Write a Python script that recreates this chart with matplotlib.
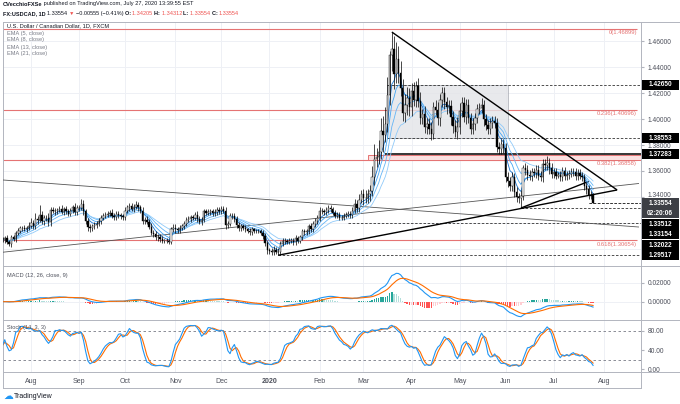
import numpy as np
import pandas as pd
import matplotlib
matplotlib.use("Agg")
import matplotlib.pyplot as plt
from matplotlib.patches import Rectangle
from matplotlib.lines import Line2D
from matplotlib.transforms import ScaledTranslation

plt.rcParams['font.family'] = ['Liberation Sans', 'DejaVu Sans']
NARROW = ['Liberation Sans Narrow', 'Liberation Sans', 'DejaVu Sans']

###########################################################################
## USD/CAD daily closes (FXCM), one list per month
###########################################################################
close_jul19 = [1.3070, 1.3085, 1.3050, 1.3040, 1.3090, 1.3075, 1.3125, 1.3140, 1.3160, 1.3165, 1.3150, 1.3160, 1.3180]
close_aug19 = [1.3200, 1.3180, 1.3230, 1.3225, 1.3265, 1.3215, 1.3240, 1.3235, 1.3205, 1.3300, 1.3295,
               1.3290, 1.3300, 1.3310, 1.3285, 1.3305, 1.3290, 1.3270, 1.3295, 1.3320, 1.3285, 1.3315]
close_sep19 = [1.3315, 1.3345, 1.3290, 1.3215, 1.3170, 1.3160, 1.3175, 1.3185, 1.3190, 1.3215, 1.3240,
               1.3255, 1.3265, 1.3270, 1.3280, 1.3255, 1.3245, 1.3270, 1.3260, 1.3250, 1.3245]
close_oct19 = [1.3295, 1.3320, 1.3330, 1.3310, 1.3325, 1.3340, 1.3320, 1.3295, 1.3215, 1.3225, 1.3210, 1.3170,
               1.3125, 1.3115, 1.3090, 1.3095, 1.3080, 1.3065, 1.3065, 1.3060, 1.3055, 1.3150, 1.3165]
close_nov19 = [1.3150, 1.3145, 1.3165, 1.3175, 1.3195, 1.3225, 1.3230, 1.3245, 1.3240, 1.3265, 1.3230,
               1.3210, 1.3225, 1.3290, 1.3280, 1.3285, 1.3290, 1.3275, 1.3285, 1.3300, 1.3290]
close_dec19 = [1.3310, 1.3295, 1.3185, 1.3195, 1.3255, 1.3250, 1.3230, 1.3185, 1.3160, 1.3175, 1.3165,
               1.3150, 1.3140, 1.3130, 1.3150, 1.3140, 1.3140, 1.3135, 1.3125, 1.3100, 1.3045, 1.2990]
close_jan20 = [1.2985, 1.2975, 1.2995, 1.2980, 1.2975, 1.3040, 1.3065, 1.3060, 1.3055, 1.3065, 1.3065, 1.3050,
               1.3085, 1.3065, 1.3090, 1.3135, 1.3130, 1.3135, 1.3175, 1.3150, 1.3190, 1.3215, 1.3235]
close_feb20 = [1.3295, 1.3290, 1.3285, 1.3300, 1.3315, 1.3305, 1.3280, 1.3255, 1.3265, 1.3240,
               1.3240, 1.3255, 1.3265, 1.3270, 1.3260, 1.3295, 1.3345, 1.3315, 1.3380, 1.3420]
close_mar20 = [1.3390, 1.3395, 1.3420, 1.3445, 1.3555, 1.3690, 1.3705, 1.3750, 1.3905, 1.3880, 1.3960,
               1.4185, 1.4490, 1.4535, 1.4350, 1.4465, 1.4355, 1.4235, 1.4045, 1.4110, 1.4165, 1.4095]
close_apr20 = [1.4215, 1.4150, 1.4255, 1.4140, 1.4010, 1.4040, 1.3935, 1.3960, 1.3925, 1.3885, 1.4090,
               1.4070, 1.4005, 1.4150, 1.4200, 1.4130, 1.4095, 1.4100, 1.4015, 1.3945, 1.3900, 1.3935]
close_may20 = [1.4065, 1.4120, 1.4015, 1.4105, 1.4010, 1.3925, 1.3965, 1.4010, 1.4075, 1.4085, 1.4110,
               1.4000, 1.3955, 1.3925, 1.3970, 1.3985, 1.3970, 1.3785, 1.3770, 1.3805, 1.3775]
close_jun20 = [1.3555, 1.3520, 1.3485, 1.3555, 1.3440, 1.3400, 1.3395, 1.3410, 1.3620, 1.3610, 1.3570,
               1.3560, 1.3590, 1.3585, 1.3610, 1.3560, 1.3555, 1.3655, 1.3650, 1.3660, 1.3620, 1.3575]
close_jul20 = [1.3595, 1.3565, 1.3570, 1.3555, 1.3600, 1.3560, 1.3570, 1.3580, 1.3590, 1.3590,
               1.3560, 1.3585, 1.3565, 1.3550, 1.3485, 1.3460, 1.3415, 1.34109, 1.33554]
last_open = 1.34205

# upper / lower wicks beyond the candle body, in pips
hi_jul19 = [20, 15, 25, 20, 15, 20, 15, 20, 15, 15, 20, 20, 25]
lo_jul19 = [20, 25, 15, 20, 25, 15, 20, 15, 20, 20, 15, 20, 15]
hi_aug19 = [40, 20, 45, 25, 70, 30, 20, 25, 40, 20, 20, 20, 15, 20, 25, 20, 25, 15, 20, 20, 30, 20]
lo_aug19 = [15, 30, 25, 30, 20, 25, 30, 20, 30, 30, 20, 25, 20, 15, 15, 25, 20, 20, 20, 15, 20, 20]
hi_sep19 = [25, 40, 30, 20, 25, 20, 20, 20, 25, 20, 20, 20, 20, 20, 20, 25, 20, 25, 20, 20, 20]
lo_sep19 = [20, 15, 25, 20, 30, 30, 20, 20, 20, 15, 20, 20, 15, 20, 20, 20, 25, 20, 20, 20, 20]
hi_oct19 = [30, 20, 25, 20, 20, 30, 25, 20, 30, 20, 25, 20, 30, 20, 25, 20, 20, 20, 15, 20, 20, 20, 25]
lo_oct19 = [20, 20, 25, 20, 25, 20, 25, 20, 25, 25, 20, 20, 20, 20, 20, 25, 25, 20, 20, 15, 15, 20, 20]
hi_nov19 = [25, 20, 20, 20, 20, 20, 20, 20, 20, 20, 25, 20, 20, 20, 20, 20, 15, 20, 20, 25, 20]
lo_nov19 = [25, 20, 20, 20, 20, 20, 15, 20, 20, 20, 20, 20, 25, 20, 20, 20, 20, 20, 20, 20, 20]
hi_dec19 = [20, 20, 25, 20, 25, 20, 25, 20, 20, 20, 20, 20, 15, 20, 20, 15, 15, 15, 15, 20, 20, 20]
lo_dec19 = [20, 20, 30, 25, 20, 20, 20, 25, 20, 20, 20, 20, 20, 20, 20, 20, 15, 15, 15, 25, 20, 25]
hi_jan20 = [20, 20, 25, 20, 25, 20, 20, 20, 20, 20, 20, 20, 20, 15, 20, 20, 20, 20, 20, 25, 25, 20, 25]
lo_jan20 = [25, 20, 25, 20, 25, 20, 20, 20, 20, 20, 20, 20, 20, 20, 20, 20, 20, 20, 20, 20, 20, 20, 20]
hi_feb20 = [30, 20, 20, 20, 25, 20, 20, 20, 20, 20, 20, 20, 20, 20, 20, 30, 40, 30, 40, 30]
lo_feb20 = [20, 20, 20, 20, 20, 20, 20, 20, 20, 20, 20, 20, 20, 20, 20, 20, 20, 30, 30, 30]
hi_mar20 = [40, 60, 40, 50, 80, 120, 70, 90, 100, 120, 130, 140, 30, 135, 100, 130, 100, 90, 70, 80, 80, 70]
lo_mar20 = [50, 40, 40, 50, 40, 60, 60, 50, 60, 130, 60, 60, 80, 120, 120, 70, 80, 60, 60, 70, 80, 70]
hi_apr20 = [60, 70, 40, 60, 70, 40, 60, 50, 50, 50, 40, 60, 60, 40, 50, 50, 40, 50, 50, 50, 50, 80]
lo_apr20 = [70, 50, 60, 50, 50, 50, 40, 50, 40, 50, 40, 40, 50, 60, 60, 50, 60, 50, 60, 50, 40, 50]
hi_may20 = [60, 50, 50, 50, 50, 40, 40, 40, 40, 40, 50, 40, 40, 40, 40, 40, 40, 40, 40, 40, 40]
lo_may20 = [50, 50, 40, 50, 40, 40, 40, 50, 40, 40, 40, 50, 40, 40, 40, 40, 40, 40, 40, 40, 40]
hi_jun20 = [40, 40, 30, 40, 30, 40, 30, 40, 30, 40, 40, 40, 30, 30, 40, 40, 40, 40, 40, 56, 40, 40]
lo_jun20 = [40, 40, 40, 40, 40, 40, 40, 80, 30, 40, 40, 30, 40, 30, 40, 30, 30, 40, 40, 40, 40, 30]
hi_jul20 = [30, 30, 20, 30, 30, 30, 30, 30, 30, 30, 30, 30, 30, 30, 30, 30, 30, 30, 10.7]
lo_jul20 = [30, 30, 20, 30, 30, 30, 30, 30, 30, 30, 30, 30, 30, 30, 30, 40, 30, 30, 0.02]

# drawings on the chart: (date, price)
trend_down = [("2020-03-19", 1.4669), ("2020-08-11", 1.3454)]
trend_jan = [("2020-01-07", 1.2952), ("2020-08-11", 1.3454)]
trend_jun = [("2020-06-10", 1.3315), ("2020-07-23", 1.3520)]
thin_up = [("2019-07-15", 1.2975), ("2020-08-25", 1.3504)]
thin_down = [("2019-07-15", 1.3531), ("2020-08-25", 1.3169)]
fib_levels = [0.0, 0.236, 0.382, 0.618]
fib_prices = [1.46899, 1.40696, 1.36858, 1.30654]
dashed_levels = [1.42650, 1.38553, 1.33154, 1.32022, 1.29517, 1.33554, 1.33512]
dashed_from = ["2020-03-17", "2020-03-17", "2020-06-10", "2020-02-20", "2020-01-07", "2020-07-23", "2020-07-23"]
box_dates = ("2020-03-17", "2020-06-02")
box_prices = (1.38553, 1.42650)
level_black = (1.37283, "2020-03-16")
zone_red = (1.3686, 1.3725, "2020-03-04")
axis_labels = [1.42650, 1.38553, 1.37283, 1.33554, 1.33512, 1.33154, 1.32022, 1.29517]
price_ticks = [1.34, 1.36, 1.38, 1.40, 1.42, 1.44, 1.46]
countdown = "02:20:06"

###########################################################################

close = np.array(close_jul19 + close_aug19 + close_sep19 + close_oct19 + close_nov19 + close_dec19 +
                 close_jan20 + close_feb20 + close_mar20 + close_apr20 + close_may20 + close_jun20 + close_jul20)
hi_p = np.array(hi_jul19 + hi_aug19 + hi_sep19 + hi_oct19 + hi_nov19 + hi_dec19 + hi_jan20 +
                hi_feb20 + hi_mar20 + hi_apr20 + hi_may20 + hi_jun20 + hi_jul20)
lo_p = np.array(lo_jul19 + lo_aug19 + lo_sep19 + lo_oct19 + lo_nov19 + lo_dec19 + lo_jan20 +
                lo_feb20 + lo_mar20 + lo_apr20 + lo_may20 + lo_jun20 + lo_jul20)
n = len(close)
cal = pd.bdate_range("2019-07-15", periods=320)

opn = np.r_[close[0], close[:-1]]
opn[-1] = last_open
high = np.maximum(opn, close) + hi_p / 10000.0
low = np.minimum(opn, close) - lo_p / 10000.0
xs = np.arange(n)

def bar_of(d):
    return cal.get_loc(pd.Timestamp(d))

# indicators
cs = pd.Series(close)
emas = {k: cs.ewm(span=k, adjust=False).mean() for k in (5, 8, 13, 21)}
macd = cs.ewm(span=12, adjust=False).mean() - cs.ewm(span=26, adjust=False).mean()
signal = macd.ewm(span=9, adjust=False).mean()
hist = macd - signal
hh = pd.Series(high).rolling(14, min_periods=1).max()
ll = pd.Series(low).rolling(14, min_periods=1).min()
k_raw = 100 * (cs - ll) / (hh - ll)
st_k = k_raw.rolling(3, min_periods=1).mean()
st_d = st_k.rolling(3, min_periods=1).mean()

###########################################################################

W, H = 680, 404
fig = plt.figure(figsize=(W / 100, H / 100), dpi=100)
fig.patch.set_facecolor('white')

X0_PX, DX_PX = 2.57, 2.187
L, R = 3, 641
XLIM = ((L - X0_PX) / DX_PX, (R - X0_PX) / DX_PX)
YLIM = (1.28692, 1.47462)
T_MAIN, B_MAIN, B_MACD, B_ST = 22, 266, 320, 372

def px_axes(t, b, **kw):
    return fig.add_axes([L / W, 1 - b / H, (R - L) / W, (b - t) / H], **kw)

ax = px_axes(T_MAIN, B_MAIN)
axm = px_axes(B_MAIN, B_MACD, sharex=ax)
axs = px_axes(B_MACD, B_ST, sharex=ax)

grid_c = '#eef0f5'
frame_c = '#b2b5be'
txt_c = '#4c4f5a'

months = [i for i in range(1, len(cal)) if cal[i].month != cal[i - 1].month]
for a in (ax, axm, axs):
    a.set_xlim(*XLIM)
    for i in months:
        a.axvline(i, color=grid_c, lw=0.7, zorder=0)
    for s in a.spines.values():
        s.set_color(frame_c)
        s.set_linewidth(0.7)
    a.yaxis.tick_right()
    a.tick_params(axis='y', length=2, pad=3, labelsize=4.8, colors=txt_c, color=frame_c)
    a.tick_params(axis='x', length=0)

# ---- main pane ----
ax.set_ylim(*YLIM)
for v in np.arange(1.30, 1.4601, 0.02):
    ax.axhline(v, color=grid_c, lw=0.7, zorder=0)
ax.set_yticks(price_ticks)
ax.set_yticklabels(['%.5f' % v for v in price_ticks])
ax.tick_params(axis='x', labelbottom=False)
# the 1.34000 label peeks out above the last-price tag
lab134 = ax.get_yticklabels()[0]
lab134.set_transform(lab134.get_transform() + ScaledTranslation(0, 2.5 / 100, fig.dpi_scale_trans))

xr = XLIM[1]
# fibonacci retracement
fib_end = (637 - X0_PX) / DX_PX
for lv, pr in zip(fib_levels, fib_prices):
    ax.hlines(pr, XLIM[0], fib_end, color='#e57373', lw=0.8, zorder=1)
    ax.annotate('%s(%.5f)' % (('%g' % lv), pr), (fib_end, pr), xytext=(0, -0.8), textcoords='offset points',
                ha='right', va='top', fontsize=4.2, color='#e57373', zorder=1)

# consolidation box
b0, b1 = bar_of(box_dates[0]), bar_of(box_dates[1])
ax.add_patch(Rectangle((b0, box_prices[0]), b1 - b0, box_prices[1] - box_prices[0],
                       facecolor='#e3e4e8', edgecolor='#9598a1', lw=0.5, alpha=0.8, zorder=1))
# red zone + black level
z0 = bar_of(zone_red[2])
ax.add_patch(Rectangle((z0, zone_red[0]), xr - z0, zone_red[1] - zone_red[0],
                       facecolor='#fbe0e0', edgecolor='#e57373', lw=0.7, zorder=1))
ax.hlines(level_black[0], bar_of(level_black[1]), xr, color='black', lw=1.1, zorder=3)

for lv, d in zip(dashed_levels, dashed_from):
    ax.hlines(lv, bar_of(d), xr, color='#333333', lw=0.6, linestyles=(0, (3, 2)), zorder=3)

for pts, c, w in ((thin_up, '#555555', 0.6), (thin_down, '#555555', 0.6),
                  (trend_down, 'black', 1.0), (trend_jan, 'black', 1.0), (trend_jun, 'black', 1.0)):
    ax.plot([bar_of(pts[0][0]), bar_of(pts[1][0])], [pts[0][1], pts[1][1]], color=c, lw=w, zorder=4,
            solid_capstyle='butt')

# EMAs
for k, c in zip((5, 8, 13, 21), ('#1976d2', '#42a5f5', '#64b5f6', '#90caf9')):
    ax.plot(xs, emas[k], color=c, lw=0.6, zorder=5)

# candles
up = close >= opn
ax.vlines(xs, low, high, color='black', lw=0.5, zorder=6)
body = np.maximum(np.abs(close - opn), 0.0002)
ax.bar(xs, body, bottom=np.minimum(opn, close), width=0.62,
       color=np.where(up, 'white', 'black'), edgecolor='black', lw=0.3, zorder=7)

ax.text(4 / (R - L), 1 - 4 / (B_MAIN - T_MAIN), 'U.S. Dollar / Canadian Dollar, 1D, FXCM', transform=ax.transAxes,
        fontsize=4.1, color='#131722', va='center', ha='left', family=NARROW)
for j, k in enumerate((5, 8, 13, 21)):
    ax.text(4 / (R - L), 1 - (11 + 7 * j) / (B_MAIN - T_MAIN), 'EMA (%d, close)' % k, transform=ax.transAxes,
            fontsize=4.1, color='#787b86', va='center', ha='left', family=NARROW)

# ---- MACD pane ----
axm.set_ylim(-0.0193, 0.0376)
axm.set_yticks([0.0, 0.02])
axm.set_yticklabels(['0.00000', '0.02000'])
for v in (0.0, 0.02):
    axm.axhline(v, color=grid_c, lw=0.7, zorder=0)
hv = hist.values
prev = np.r_[0.0, hv[:-1]]
hcol = np.where(hv >= 0, np.where(hv >= prev, '#26a69a', '#b2dfdb'), np.where(hv < prev, '#ff5252', '#ffcdd2'))
axm.bar(xs, hv, width=0.62, color=hcol, zorder=2)
axm.plot(xs, macd, color='#2196f3', lw=0.8, zorder=3)
axm.plot(xs, signal, color='#ff6d00', lw=0.8, zorder=3)
axm.tick_params(axis='x', labelbottom=False)
axm.text(4 / (R - L), 1 - 9 / (B_MACD - B_MAIN), 'MACD (12, 26, close, 9)', transform=axm.transAxes,
         fontsize=4.1, color='#4c4f5a', va='center', ha='left', family=NARROW)

# ---- Stochastic pane ----
axs.set_ylim(-5.6, 102.2)
axs.set_yticks([0, 40, 80])
axs.set_yticklabels(['0.00', '40.00', '80.00'])
for v in (20, 80):
    axs.axhline(v, color='#787b86', lw=0.6, ls=(0, (3, 3)), zorder=1)
axs.plot(xs, st_d, color='#ff6d00', lw=0.8, zorder=3)
axs.plot(xs, st_k, color='#2196f3', lw=0.8, zorder=3)
axs.text(4 / (R - L), 1 - 8 / (B_ST - B_MACD), 'Stoch (14, 3, 3)', transform=axs.transAxes,
         fontsize=4.1, color='#4c4f5a', va='center', ha='left', family=NARROW)

vis = [i for i in months if XLIM[0] < i < XLIM[1]]
axs.set_xticks(vis)
axs.set_xticklabels([str(cal[i].year) if cal[i].month == 1 else cal[i].strftime('%b') for i in vis])
axs.tick_params(axis='x', labelsize=5, colors=txt_c, pad=4)
for lab in axs.get_xticklabels():
    if lab.get_text().isdigit():
        lab.set_fontweight('bold')

# ---- frame lines ----
def fline(x0, y0, x1, y1):
    fig.add_artist(Line2D([x0 / W, x1 / W], [1 - y0 / H, 1 - y1 / H], color=frame_c, lw=0.7))

fline(R, T_MAIN, W, T_MAIN)
fline(R, B_MAIN, W, B_MAIN)
fline(R, B_MACD, W, B_MACD)
fline(R, B_ST, W, B_ST)
fline(R, B_ST, R, 388)
fline(L, B_ST, L, 388)
fline(L, 388, R, 388)

# ---- price-axis tags ----
def py_of(p):
    return T_MAIN + (YLIM[1] - p) / (YLIM[1] - YLIM[0]) * (B_MAIN - T_MAIN)

tags = []
for p in sorted(axis_labels, reverse=True):
    tags.append(('%.5f' % p, py_of(p), '#3d3f45' if p == close[-1] else 'black'))
    if p == close[-1]:
        tags.append((countdown, py_of(p), '#3d3f45'))
placed = []
last = -1e9
for s, y, c in tags:
    y = max(y, last + 10.5)
    placed.append((s, y, c))
    last = y
for s, y, c in placed:
    fig.add_artist(Rectangle((642 / W, 1 - (y + 5) / H), 37 / W, 10 / H, transform=fig.transFigure,
                             facecolor=c, edgecolor='none', zorder=10))
    fig.text(660 / W, 1 - (y + 0.4) / H, s, color='white', fontsize=4.7, fontweight='bold', ha='center',
             va='center', zorder=11)

# ---- header ----
rend = fig.canvas.get_renderer()
def runs(x, y, parts, size=4.1):
    for s, c, wt in parts:
        t = fig.text(x / W, 1 - y / H, s, color=c, fontsize=size, fontweight=wt, ha='left', va='center',
                     family=NARROW)
        x += t.get_window_extent(rend).width

dk, rd = '#131722', '#ef5350'
runs(3, 4, [('CVecchioFXSe', dk, 'bold'), (' published on TradingView.com, July 27, 2020 13:39:55 EST', dk, 'normal')])
chg = close[-1] - close[-2]
runs(3, 13.5, [('FX:USDCAD, 1D ', dk, 'bold'), ('%.5f ' % close[-1], dk, 'normal'), ('\u25bc ', rd, 'normal'),
               ('\u2212%.5f (\u2212%.2f%%) ' % (abs(chg), abs(chg) / close[-2] * 100), dk, 'normal'),
               ('O: ', dk, 'bold'), ('%.5f ' % opn[-1], rd, 'normal'),
               ('H: ', dk, 'bold'), ('%.5f ' % high[-1], rd, 'normal'),
               ('L: ', dk, 'bold'), ('%.5f ' % low[-1], rd, 'normal'),
               ('C: ', dk, 'bold'), ('%.5f' % close[-1], rd, 'normal')], size=3.95)

fig.text(8 / W, 1 - 396 / H, '\u2601', color='#2196f3', fontsize=7, ha='center', va='center', family=['DejaVu Sans'])
fig.text(14 / W, 1 - 396.5 / H, 'TradingView', color='#131722', fontsize=5, ha='left', va='center', family=NARROW)

fig.savefig('out.png', dpi=100, facecolor='white')
